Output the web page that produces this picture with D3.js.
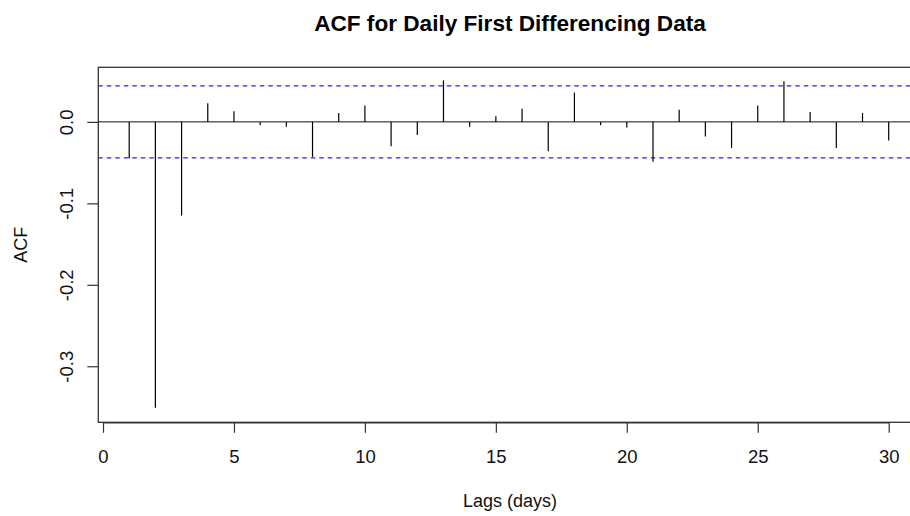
<!DOCTYPE html>
<html>
<head>
<meta charset="utf-8">
<script src="https://cdn.jsdelivr.net/npm/d3@7"></script>
<style>
  html, body { margin: 0; padding: 0; background: #fff; }
  svg { display: block; }
  text { font-family: "Liberation Sans", Arial, sans-serif; }
</style>
</head>
<body>
<svg id="chart" width="910" height="516"></svg>
<script>
// ---- Data ----
const lags = [1,2,3,4,5,6,7,8,9,10,11,12,13,14,15,16,17,18,19,20,21,22,23,24,25,26,27,28,29,30];
const acfValues = [-0.045,-0.351,-0.115,0.023,0.013,-0.004,-0.006,-0.043,0.011,0.020,-0.030,-0.016,0.051,-0.006,0.007,0.016,-0.036,0.036,-0.004,-0.007,-0.049,0.015,-0.018,-0.032,0.020,0.050,0.012,-0.032,0.011,-0.023];
const confLimits = [0.0442, -0.0442];
const xTicks = [0,5,10,15,20,25,30];
const yTicks = [0.0,-0.1,-0.2,-0.3];
const yTickLabels = ["0.0","-0.1","-0.2","-0.3"];
const titleText = "ACF for Daily First Differencing Data";
const xLabel = "Lags (days)";
const yLabel = "ACF";

// ---- Layout ----
const svg = d3.select("#chart");
const plot = { left: 98.3, top: 67.3, right: 919.6, bottom: 422.3 };

const x = d3.scaleLinear().domain([-0.18, 31.18]).range([plot.left, plot.right]);
const y = d3.scaleLinear().domain([-0.3688, 0.0670]).range([plot.bottom, plot.top]);

// zero line
svg.append("line")
  .attr("x1", plot.left).attr("x2", plot.right)
  .attr("y1", y(0)).attr("y2", y(0))
  .attr("stroke", "#111").attr("stroke-width", 1);

// confidence lines
svg.selectAll("line.ci").data(confLimits).join("line")
  .attr("class", "ci")
  .attr("x1", plot.left).attr("x2", plot.right)
  .attr("y1", d => y(d)).attr("y2", d => y(d))
  .attr("stroke", "#2020ff").attr("stroke-width", 1.2)
  .attr("stroke-dasharray", "4.5,4");

// spikes
svg.selectAll("line.spike").data(lags).join("line")
  .attr("class", "spike")
  .attr("x1", d => x(d)).attr("x2", d => x(d))
  .attr("y1", y(0)).attr("y2", (d, i) => y(acfValues[i]))
  .attr("stroke", "#000").attr("stroke-width", 1.2);

// box
svg.append("rect")
  .attr("x", plot.left).attr("y", plot.top)
  .attr("width", plot.right - plot.left).attr("height", plot.bottom - plot.top)
  .attr("fill", "none").attr("stroke", "#333").attr("stroke-width", 1.3);

// x axis
const xAxis = d3.axisBottom(x).tickValues(xTicks).tickSize(10.5).tickPadding(4).tickFormat(d3.format("d"));
const gx = svg.append("g").attr("transform", `translate(0,${plot.bottom})`).call(xAxis);
gx.select(".domain").attr("d", `M${x(0)},0.5H${x(30)}`).attr("stroke", "#333").attr("stroke-width", 1.3);
gx.selectAll(".tick line").attr("stroke", "#333").attr("stroke-width", 1.2);
gx.selectAll(".tick text").attr("font-size", 18.5).attr("fill", "#111")
  .attr("font-family", "Liberation Sans, Arial, sans-serif")
  .attr("dy", null).attr("y", 41);

// y axis
const yAxis = d3.axisLeft(y).tickValues(yTicks).tickSize(11).tickFormat((d, i) => yTickLabels[i]);
const gy = svg.append("g").attr("transform", `translate(${plot.left},0)`).call(yAxis);
gy.select(".domain").remove();
gy.selectAll(".tick line").attr("stroke", "#333").attr("stroke-width", 1.2);
gy.selectAll(".tick text")
  .attr("font-size", 18.5).attr("fill", "#111")
  .attr("font-family", "Liberation Sans, Arial, sans-serif")
  .attr("x", null).attr("dy", null)
  .attr("text-anchor", "middle")
  .attr("transform", "translate(-25.6,0) rotate(-90)");

// title
svg.append("text")
  .attr("x", 510).attr("y", 30.7)
  .attr("text-anchor", "middle")
  .attr("font-size", 22.6).attr("font-weight", "bold").attr("fill", "#000")
  .text(titleText);

// x label
svg.append("text")
  .attr("x", 510).attr("y", 507.3)
  .attr("text-anchor", "middle")
  .attr("font-size", 18).attr("fill", "#111")
  .text(xLabel);

// y label
svg.append("text")
  .attr("transform", `translate(26.7,${(plot.top + plot.bottom) / 2}) rotate(-90)`)
  .attr("text-anchor", "middle")
  .attr("font-size", 18).attr("fill", "#111")
  .text(yLabel);
</script>
</body>
</html>
